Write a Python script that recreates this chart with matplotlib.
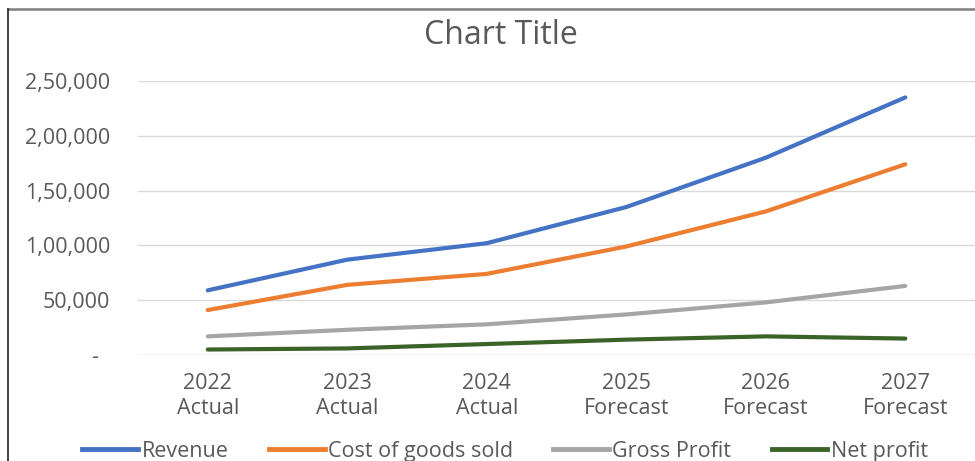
import matplotlib
matplotlib.use("Agg")
import matplotlib.pyplot as plt
from matplotlib.lines import Line2D

plt.rcParams['font.family'] = ['Open Sans', 'DejaVu Sans']

categories = ["2022\nActual", "2023\nActual", "2024\nActual",
              "2025\nForecast", "2026\nForecast", "2027\nForecast"]
revenue = [59000, 87000, 102000, 135000, 180000, 235000]
cogs = [41000, 64000, 74000, 99000, 131000, 174000]
gross_profit = [17000, 23000, 28000, 37000, 48000, 63000]
net_profit = [5000, 6000, 10000, 14000, 17000, 15000]
series_names = ["Revenue", "Cost of goods sold", "Gross Profit", "Net profit"]
ytick_values = [0, 50000, 100000, 150000, 200000, 250000]
ytick_labels = ["-  ", "50,000", "1,00,000", "1,50,000", "2,00,000", "2,50,000"]

colors = ["#4472C4", "#ED7D31", "#A5A5A5", "#3A6427"]
text_color = "#595959"

W, H = 975, 461
fig = plt.figure(figsize=(W / 100, H / 100), dpi=100)
ax = fig.add_axes([138 / W, 1 - 355 / H, (975 - 138) / W, (355 - 81) / H])

x = list(range(len(categories)))
for vals, name, c in zip([revenue, cogs, gross_profit, net_profit], series_names, colors):
    ax.plot(x, vals, color=c, lw=3.0, label=name, solid_capstyle='round', zorder=3)

ax.set_xlim(-0.5, len(categories) - 0.5)
ax.set_ylim(0, 250000)
ax.set_yticks(ytick_values)
ax.set_yticklabels(ytick_labels)
ax.set_xticks(x)
ax.set_xticklabels(categories, linespacing=1.22)
ax.tick_params(axis='both', length=0, labelsize=15.5, colors=text_color)
ax.tick_params(axis='y', pad=20)
ax.tick_params(axis='x', pad=13)
ax.grid(axis='y', color="#D9D9D9", lw=1.0)
ax.set_axisbelow(True)
for s in ax.spines.values():
    s.set_visible(False)
ax.axhline(0, color="#D9D9D9", lw=1.0, zorder=1)

fig.text(501 / W, 1 - 36 / H, "Chart Title", ha='center', va='center',
         fontsize=23, color=text_color)

handles = [Line2D([0], [0], color=c, lw=3.5) for c in colors]
leg = fig.legend(handles, series_names, loc='center', bbox_to_anchor=(505 / W, 1 - 451 / H),
                 ncol=4, frameon=False, fontsize=15.5, handlelength=2.6, handletextpad=0.15,
                 columnspacing=1.87, labelcolor=text_color)

# outer frame (partially cropped)
fig.add_artist(Line2D([8 / W, 1.0], [1 - 9.5 / H, 1 - 9.5 / H], color="#7F7F7F", lw=1.8))
fig.add_artist(Line2D([8 / W, 8 / W], [0, 1 - 9.5 / H], color="#222222", lw=1.2))

fig.savefig("out.png", dpi=100)
